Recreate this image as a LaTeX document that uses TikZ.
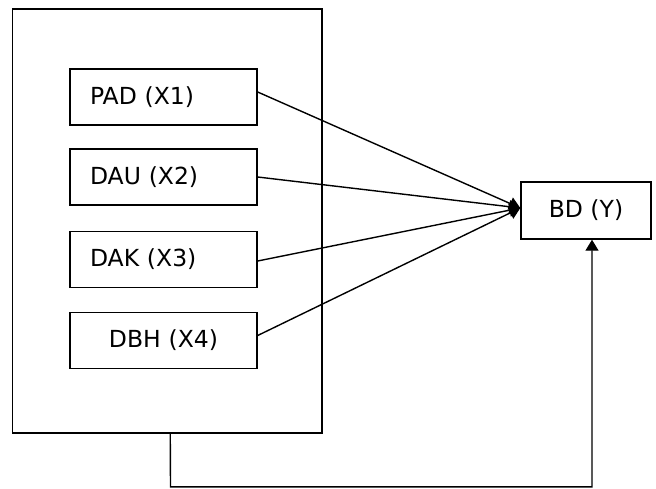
\documentclass[tikz,border=0pt]{standalone}
\usepackage{fontspec}
\setmainfont{DejaVu Sans}
\usetikzlibrary{arrows.meta}
\begin{document}
\begin{tikzpicture}[x=1pt,y=-1pt,
  box/.style={draw, line width=1.4pt, rectangle, inner sep=0pt, font=\fontsize{23.5}{27}\selectfont},
  varbox/.style={box, minimum width=187pt, minimum height=56pt, text width=147pt, inner xsep=20pt, align=left},
  link/.style={line width=1.4pt, -{Triangle[length=11pt,width=13pt]}}]
\useasboundingbox (0,0) rectangle (656,488);
\node[box, minimum width=309.5pt, minimum height=424pt] (outer) at (167.25,221) {};
\node[varbox] (pad) at (163.5,97) {PAD (X1)};
\node[varbox] (dau) at (163.5,177) {DAU (X2)};
\node[varbox] (dak) at (163.5,259.5) {DAK (X3)};
\node[varbox, align=center] (dbh) at (163.5,340.5) {DBH (X4)};
\node[box, minimum width=130pt, minimum height=57pt] (bd) at (586,210.5) {BD (Y)};
\coordinate (bend) at (170.5,486.8);
\draw[link] ([yshift=5pt]pad.east) -- ([yshift=2.5pt]bd.west);
\draw[link] (dau.east) -- ([yshift=2.5pt]bd.west);
\draw[link] ([yshift=-1.5pt]dak.east) -- ([yshift=2.5pt]bd.west);
\draw[link] ([yshift=5pt]dbh.east) -- ([yshift=2.5pt]bd.west);
\draw[link] ([xshift=3pt]outer.south) -- (bend) -| ([xshift=6pt]bd.south);
\end{tikzpicture}
\end{document}
